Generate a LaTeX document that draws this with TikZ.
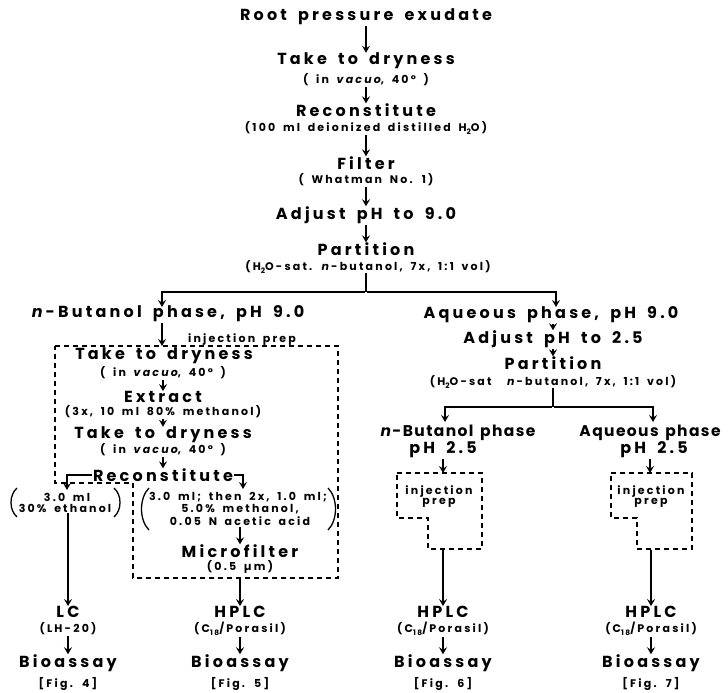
\documentclass[tikz,border=0pt]{standalone}
\usepackage{fontspec}
\newfontfamily\lett{Poppins}[LetterSpace=20, WordSpace=2]
\newfontfamily\letn{Poppins}[LetterSpace=9, WordSpace=1.4]
\newfontfamily\lets{Poppins}[LetterSpace=20, WordSpace=1.7]
\usetikzlibrary{arrows.meta}
\newcommand\lowr[1]{\raisebox{-0.4ex}{\fontsize{7.5}{7.5}\selectfont #1}}
\begin{document}
\begin{tikzpicture}[x=1pt,y=-1pt,
  big/.style={font=\lett\bfseries\fontsize{16}{18}\selectfont, inner sep=0pt},
  bign/.style={font=\letn\bfseries\fontsize{15.5}{18}\selectfont, inner sep=0pt},
  sm/.style={font=\lets\bfseries\fontsize{11}{12}\selectfont, inner sep=0pt},
  arr/.style={-{Stealth[length=7pt,width=8pt,inset=2.6pt]}, line width=1.5pt, shorten <=1pt},
  br/.style={line width=2.4pt},
  dashbox/.style={draw, dash pattern=on 5pt off 4pt, line width=1.4pt},
  paren/.style={line width=1.3pt}]
\useasboundingbox (0,0) rectangle (728,693);

% ---------- centre column ----------
\node[big] (root) at (366,17) {Root pressure exudate};
\node[big] (td1) at (366,61) {Take to dryness};
\node[sm] (td1s) at (366,80) {( in \textit{vacuo}, 40° )};
\node[big] (rec1) at (366,110) {Reconstitute};
\node[sm] (rec1s) at (366,128) {(100 ml deionized distilled H\lowr{2}O)};
\node[big] (fil) at (366,163) {Filter};
\node[sm] (fils) at (366,180) {( Whatman No. 1)};
\node[big] (adj) at (366,215) {Adjust pH to 9.0};
\node[big] (par) at (366,249) {Partition};
\node[sm] (pars) at (368,267) {(H\lowr{2}O-sat. \textit{n}-butanol, 7x, 1:1 vol)};

\draw[arr] (root) -- (td1);
\draw[arr] (td1s) -- (rec1);
\draw[arr] (rec1s) -- (fil);
\draw[arr] (fils) -- (adj);
\draw[arr] (adj) -- (par);

\coordinate (j1) at (366,292);
\coordinate (nbT) at (162,307);
\coordinate (aqT) at (556,307);
\draw[br] (pars.south -| j1) -- (j1);
\draw[br,arr] (j1) -| (nbT);
\draw[br,arr] (j1) -| (aqT);

% ---------- left branch ----------
\node[big] (nb) at (168,314) {\textit{n}-Butanol phase, pH 9.0};
\coordinate (bxT) at (162,346);
\draw[arr] (bxT |- nb.south) -- (bxT);
\node[sm, anchor=base] (ip) at (242,342) {injection prep};
\draw[dashbox] (55,346) -- (338,346) -- (338,578) -- (133,578) -- (133,483) -- (55,483) -- cycle;

\node[big] (td2) at (164,356) {Take to dryness};
\node[sm] (td2s) at (163,373) {( in \textit{vacuo}, 40° )};
\node[big] (ext) at (163,397) {Extract};
\node[sm] (exts) at (163,412) {(3x, 10 ml 80\% methanol)};
\node[big] (td3) at (163,435) {Take to dryness};
\node[sm] (td3s) at (163,450) {( in \textit{vacuo}, 40° )};
\node[big] (rec2) at (163,475) {Reconstitute};
\draw[arr] (td2s) -- (ext);
\draw[arr] (exts) -- (td3);
\draw[arr] (td3s) -- (rec2);

\coordinate (ethT) at (67,490);
\coordinate (acT) at (243,489);
\draw[arr] (rec2.west) -| (ethT);
\draw[arr] (rec2.east) -| (acT);

\node[sm] (eth1) at (67,497) {3.0 ml};
\node[sm] (eth2) at (65,508) {30\% ethanol};
\draw[paren] (17,488) .. controls (9,495) and (9,510) .. (17,517);
\draw[paren] (114,488) .. controls (122,495) and (122,510) .. (114,517);

\node[sm] (ac1) at (238,497) {3.0 ml; then 2x, 1.0 ml;};
\node[sm] (ac2) at (240,509) {5.0\% methanol,};
\node[sm] (ac3) at (240,521) {0.05 N acetic acid};
\draw[paren] (149,488) .. controls (139,498) and (139,520) .. (149,530);
\draw[paren] (328,488) .. controls (338,498) and (338,520) .. (328,530);

\node[big] (mf) at (240,551) {Microfilter};
\node[sm] (mfs) at (240,567) {(0.5 µm)};
\draw[arr] (ac3.south -| mf.north) -- (mf.north);

% ---------- right branch ----------
\node[big] (aq9) at (551,315) {Aqueous phase, pH 9.0};
\node[big] (adj2) at (553,339) {Adjust pH to 2.5};
\node[big] (par2) at (553,363) {Partition};
\node[sm] (par2s) at (553,382) {(H\lowr{2}O-sat \ \textit{n}-butanol, 7x, 1:1 vol)};
\draw[arr] (aq9.south -| adj2.north) -- (adj2.north);
\draw[arr] (adj2) -- (par2);

\coordinate (j2) at (553,407);
\coordinate (nb2T) at (445,422);
\coordinate (aq2T) at (653,422);
\draw[br] (par2s.south) -- (j2);
\draw[br,arr] (j2) -| (nb2T);
\draw[br,arr] (j2) -| (aq2T);

\node[bign] (nb2) at (458,433) {\textit{n}-Butanol phase};
\node[big] (ph2) at (443,450) {pH 2.5};
\node[bign] (aq2) at (650,433) {Aqueous phase};
\node[big] (ph3) at (654,450) {pH 2.5};

\coordinate (b1T) at (443,473);
\coordinate (b2T) at (650,473);
\draw[arr] (b1T |- ph2.south) -- (b1T);
\draw[arr] (b2T |- ph3.south) -- (b2T);
\draw[dashbox] (397,473) -- (482,473) -- (482,549) -- (428,549) -- (428,518) -- (397,518) -- cycle;
\draw[dashbox] (611,473) -- (692,473) -- (692,549) -- (637,549) -- (637,518) -- (611,518) -- cycle;
\node[sm] (in1) at (439,492) {injection};
\node[sm] (pr1) at (439,503) {prep};
\node[sm] (in2) at (651,492) {injection};
\node[sm] (pr2) at (651,503) {prep};

% ---------- bottom row ----------
\node[big] (lc) at (68,612) {LC};
\node[sm] (lcs) at (68,629) {(LH-20)};
\node[big] (bio1) at (68,663) {Bioassay};
\node[sm] (fig4) at (68,684) {[Fig. 4]};

\node[big] (hp2) at (240,612) {HPLC};
\node[sm] (hp2s) at (240,629) {(C\lowr{18}/Porasil)};
\node[big] (bio2) at (240,663) {Bioassay};
\node[sm] (fig5) at (240,684) {[Fig. 5]};

\node[big] (hp3) at (443,612) {HPLC};
\node[sm] (hp3s) at (443,629) {(C\lowr{18}/Porasil)};
\node[big] (bio3) at (443,663) {Bioassay};
\node[sm] (fig6) at (443,684) {[Fig. 6]};

\node[big] (hp4) at (651,612) {HPLC};
\node[sm] (hp4s) at (651,629) {(C\lowr{18}/Porasil)};
\node[big] (bio4) at (651,663) {Bioassay};
\node[sm] (fig7) at (651,684) {[Fig. 7]};

\draw[arr, line width=1.8pt] (lc.north |- eth2.south) -- (lc.north);
\coordinate (bxB) at (240,578);
\coordinate (b1B) at (443,549);
\coordinate (b2B) at (651,549);
\draw[arr] (bxB) -- (hp2.north);
\draw[arr] (b1B) -- (hp3.north);
\draw[arr] (b2B) -- (hp4.north);

\draw[arr] (lcs) -- (bio1);
\draw[arr] (hp2s) -- (bio2);
\draw[arr] (hp3s) -- (bio3);
\draw[arr] (hp4s) -- (bio4);
\end{tikzpicture}
\end{document}
